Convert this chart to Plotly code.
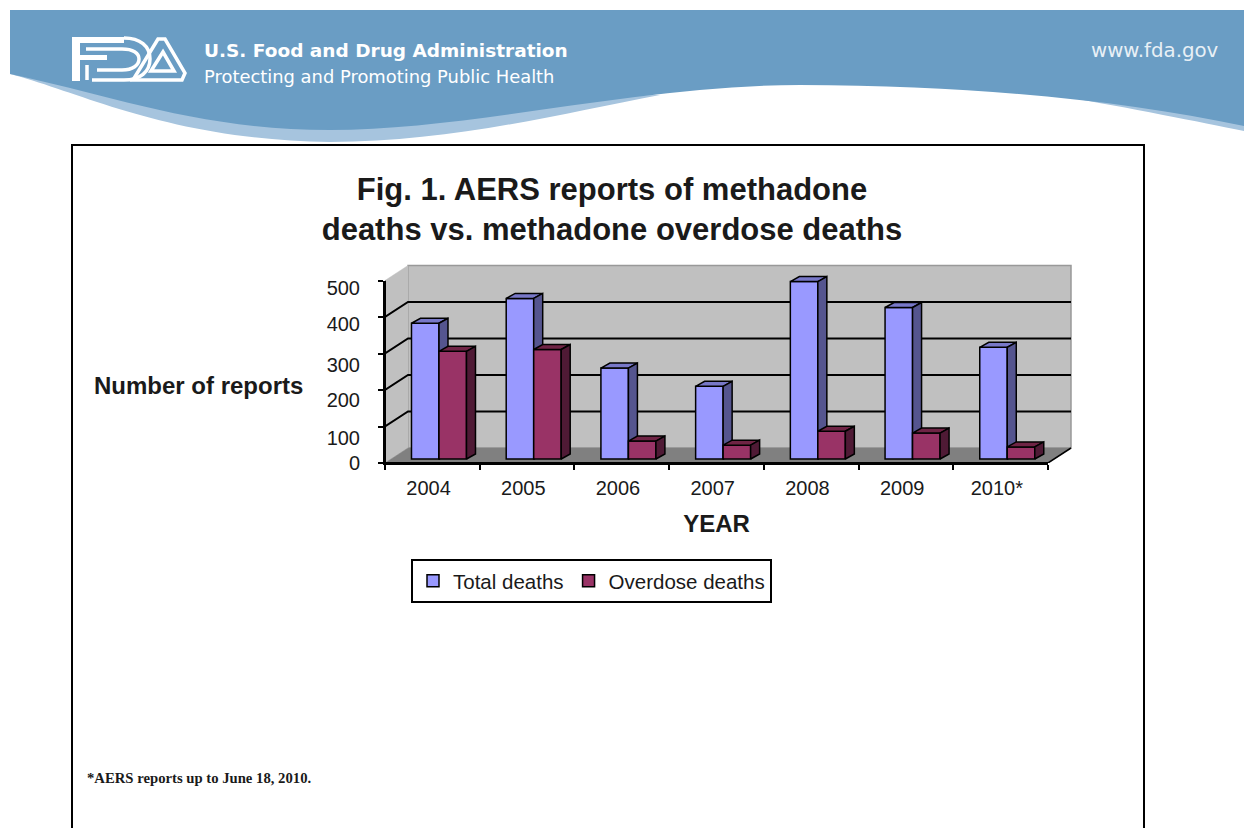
import plotly.graph_objects as go

years = ["2004", "2005", "2006", "2007", "2008", "2009", "2010*"]
total_deaths = [372, 440, 249, 199, 486, 415, 306]
overdose_deaths = [295, 300, 49, 38, 76, 71, 33]
y_ticks = [0, 100, 200, 300, 400, 500]
y_label_drop_px = [0, 11, 10, 11, 7, 7]
title_lines = ["Fig. 1. AERS reports of methadone", "deaths vs. methadone overdose deaths"]

W, H = 1244, 828
PLOT_L, PLOT_R, PLOT_T, PLOT_B = 385, 1048, 280.5, 463
CAT_PX = (PLOT_R - PLOT_L) / 7
VAL_PX = (PLOT_B - PLOT_T) / 500
WALL_DX, WALL_DY = 23 / CAT_PX, 15 / VAL_PX
PAD_X, PAD_Y = 2 / CAT_PX, 2 / VAL_PX
BAR_DX, BAR_DY = 9 / CAT_PX, 5 / VAL_PX
BASE = 4 / VAL_PX
BAR_W = 27.5 / CAT_PX
GROUP_C = 0.57
FONT = "Liberation Sans"
INK = "#1a1a1a"
BLUE, RED = "#9999ff", "#993366"


def faces(left, values):
    top, side = ([], []), ([], [])
    for i, v in enumerate(values):
        a, b = i + left, i + left + BAR_W
        t = BASE + v
        top[0].extend([a, b, b + BAR_DX, a + BAR_DX, a, None])
        top[1].extend([t, t, t + BAR_DY, t + BAR_DY, t, None])
        side[0].extend([b, b + BAR_DX, b + BAR_DX, b, b, None])
        side[1].extend([BASE, BASE + BAR_DY, t + BAR_DY, t, BASE, None])
    return top, side


def poly(xs, ys, color, line="#000000", lw=1.5, xa="x", ya="y"):
    return go.Scatter(x=xs, y=ys, mode="lines", fill="toself", fillcolor=color,
                      line=dict(color=line, width=lw), showlegend=False, hoverinfo="skip", xaxis=xa, yaxis=ya)


fig = go.Figure()
# walls and floor
fig.add_trace(poly([WALL_DX, 7 + WALL_DX, 7 + WALL_DX, WALL_DX, WALL_DX],
                   [WALL_DY, WALL_DY, 500 + WALL_DY, 500 + WALL_DY, WALL_DY], "#c0c0c0", "#999999", 1.5))
fig.add_trace(poly([0, WALL_DX, WALL_DX, 0, 0], [0, WALL_DY, 500 + WALL_DY, 500, 0], "#c0c0c0", "#c0c0c0", 0.5))
fig.add_trace(poly([0, 7, 7 + WALL_DX, WALL_DX, 0], [0, 0, WALL_DY, WALL_DY, 0], "#808080", "#808080", 0.5))
for v in y_ticks[1:-1]:
    fig.add_trace(go.Scatter(x=[0, WALL_DX, 7 + WALL_DX], y=[v, v + WALL_DY, v + WALL_DY], mode="lines",
                             line=dict(color="#000000", width=2), showlegend=False, hoverinfo="skip"))
fig.add_trace(go.Scatter(x=[7, 7 + WALL_DX], y=[0, WALL_DY], mode="lines", line=dict(color="#000000", width=1.5),
                         showlegend=False, hoverinfo="skip"))

for name, values, left, front, topc, sidec, xa, ya in [
    ("Total deaths", total_deaths, GROUP_C - BAR_W, BLUE, "#7878c8", "#55558f", "x2", "y2"),
    ("Overdose deaths", overdose_deaths, GROUP_C, RED, "#6f2445", "#4f1a35", "x3", "y3"),
]:
    fig.add_trace(go.Bar(x=[i + left + BAR_W / 2 for i in range(7)], y=values, base=BASE, width=BAR_W, name=name,
                         marker=dict(color=front, line=dict(color="#000000", width=1.5)), xaxis=xa, yaxis=ya))
    top, side = faces(left, values)
    fig.add_trace(poly(top[0], top[1], topc, xa=xa, ya=ya))
    fig.add_trace(poly(side[0], side[1], sidec, xa=xa, ya=ya))

# front-plane baselines, which also bring the visible axes into being
fig.add_trace(go.Scatter(x=[0, 7], y=[0, 0], mode="lines", line=dict(color="#000000", width=2), xaxis="x5", yaxis="y5",
                         showlegend=False, hoverinfo="skip"))
fig.add_trace(go.Scatter(x=[0, 0], y=[0, 500], mode="lines", line=dict(color="#000000", width=2), xaxis="x5", yaxis="y6",
                         showlegend=False, hoverinfo="skip"))

banner_light_left = "M10,74 C80,92 170,140 330,142 C450,142 560,114 660,95 L330,100 Z"
banner_light_right = "M1060,96 C1130,108 1200,122 1244,131 L1244,110 Z"
banner = ("M10,10 L1244,10 L1244,126 C1120,100 980,86 800,85 C640,85 470,130 330,130 "
          "C200,130 110,95 10,74 Z")
frame = "M72,830 L72,145 L1144,145 L1144,830"
logo_fill = ["M72,37 H124 V43 H80 V55 H107 V60 H80 V81 H72 Z"]
logo_stroke = [
    "M92,80 H124 C140,80 150,72 150,59 C150,46 140,38 124,38",
    "M86,49 H122 C133,49 139,53 139,59 C139,65 133,70 122,70 H97",
    "M87,65 V80",
    "M133,80 L158,39 H165 L185,73 L182,80 Z",
    "M151,71 L163,52 L174,71 Z",
]
shapes = [
    dict(type="path", path=banner_light_left, fillcolor="#a6c4de", line_width=0, xref="x4", yref="y4", layer="below"),
    dict(type="path", path=banner_light_right, fillcolor="#a6c4de", line_width=0, xref="x4", yref="y4", layer="below"),
    dict(type="path", path=banner, fillcolor="#6a9dc4", line_width=0, xref="x4", yref="y4", layer="below"),
    dict(type="path", path=frame, line=dict(color="#000000", width=2), xref="x4", yref="y4", layer="below"),
]
for p in logo_fill:
    shapes.append(dict(type="path", path=p, fillcolor="#ffffff", line_width=0, xref="x4", yref="y4", layer="below"))
for p in logo_stroke:
    shapes.append(dict(type="path", path=p, line=dict(color="#ffffff", width=3.5), xref="x4", yref="y4", layer="below"))

hidden = dict(visible=False, fixedrange=True)
front_x = [PLOT_L / W, PLOT_R / W]
front_y = [1 - PLOT_B / H, 1 - PLOT_T / H]
ext_x_range = [0, 7 + WALL_DX + PAD_X]
ext_y_range = [0, 500 + WALL_DY + PAD_Y]
ext_x = [PLOT_L / W, (PLOT_L + ext_x_range[1] * CAT_PX) / W]
ext_y = [1 - PLOT_B / H, 1 - (PLOT_B - ext_y_range[1] * VAL_PX) / H]
label_font = dict(size=20, family=FONT, color=INK)

fig.update_layout(
    width=W, height=H, autosize=False, margin=dict(l=0, r=0, t=0, b=0, autoexpand=False),
    paper_bgcolor="#ffffff", plot_bgcolor="rgba(0,0,0,0)", barmode="overlay",
    font=dict(family=FONT, color=INK),
    shapes=shapes,
    # extended plot boxes holding the wall, the total series and the overdose series
    xaxis=dict(domain=ext_x, range=ext_x_range, anchor="y", **hidden),
    yaxis=dict(domain=ext_y, range=ext_y_range, anchor="x", **hidden),
    xaxis2=dict(domain=ext_x, range=ext_x_range, anchor="y2", showgrid=False, zeroline=False, showline=False,
                tickmode="array", tickvals=[i + 0.46 for i in range(7)], ticktext=years, ticks="outside", ticklen=7,
                tickcolor="rgba(0,0,0,0)", tickfont=label_font),
    yaxis2=dict(domain=ext_y, range=ext_y_range, anchor="x2", **hidden),
    xaxis3=dict(domain=ext_x, range=ext_x_range, anchor="y3", **hidden),
    yaxis3=dict(domain=ext_y, range=ext_y_range, anchor="x3", **hidden),
    # page-sized pixel axes for banner, frame and captions
    xaxis4=dict(domain=[0, 1], range=[0, W], anchor="y4", **hidden),
    yaxis4=dict(domain=[0, 1], range=[H, 0], anchor="x4", **hidden),
    # visible front-plane axes
    xaxis5=dict(domain=front_x, range=[0, 7], anchor="y5", tickmode="array", tickvals=list(range(8)),
                ticktext=[""] * 8, ticks="outside", ticklen=5, tickwidth=2, tickcolor="#000000", showline=True,
                linecolor="#000000", linewidth=2, showgrid=False, zeroline=False,
                title=dict(text="<b>YEAR</b>", font=dict(size=24, family=FONT, color=INK), standoff=44)),
    yaxis5=dict(domain=front_y, range=[0, 500], anchor="x5", tickmode="array", tickvals=y_ticks,
                ticktext=[""] * len(y_ticks), ticks="outside", ticklen=5, tickwidth=2, tickcolor="#000000",
                showline=True, linecolor="#000000", linewidth=2, showgrid=False, zeroline=False),
    yaxis6=dict(domain=front_y, range=[0, 500], overlaying="y5", anchor="x5", side="left", showgrid=False,
                zeroline=False, showline=False, tickmode="array",
                tickvals=[v - d / VAL_PX for v, d in zip(y_ticks, y_label_drop_px)],
                ticktext=[str(v) for v in y_ticks], ticks="outside", ticklen=20, tickcolor="rgba(0,0,0,0)",
                tickfont=dict(size=20, family=FONT, color=INK)),
    title=dict(text="<br>".join("<b>" + t + "</b>" for t in title_lines), x=612 / W, xanchor="center",
               y=1 - 199.5 / H, yanchor="top", font=dict(size=31, family=FONT, color=INK)),
    legend=dict(orientation="h", x=411 / W, y=1 - 559 / H, xanchor="left", yanchor="top", bgcolor="#ffffff",
                bordercolor="#000000", borderwidth=2, font=dict(size=20.5, family=FONT, color=INK),
                itemclick=False, itemdoubleclick=False),
    annotations=[
        dict(text="<b>Number of reports</b>", x=198, y=385, xref="x4", yref="y4", showarrow=False,
             font=dict(size=24, family=FONT, color=INK)),
        dict(text="<b>U.S. Food and Drug Administration</b>", x=202, y=50, xref="x4", yref="y4", xanchor="left",
             showarrow=False, font=dict(size=18.5, family="DejaVu Sans", color="#ffffff")),
        dict(text="Protecting and Promoting Public Health", x=202, y=76, xref="x4", yref="y4", xanchor="left",
             showarrow=False, font=dict(size=17.9, family="DejaVu Sans", color="#ffffff")),
        dict(text="www.fda.gov", x=1221, y=50, xref="x4", yref="y4", xanchor="right", showarrow=False,
             font=dict(size=19.8, family="DejaVu Sans", color="#e8f0f6")),
        dict(text="<b>*AERS reports up to June 18, 2010.</b>", x=85, y=778, xref="x4", yref="y4", xanchor="left",
             showarrow=False, font=dict(size=14.7, family="Liberation Serif", color=INK)),
    ],
)
fig.write_html("out.html", config=dict(displayModeBar=False), post_script="document.body.style.margin='0';")
